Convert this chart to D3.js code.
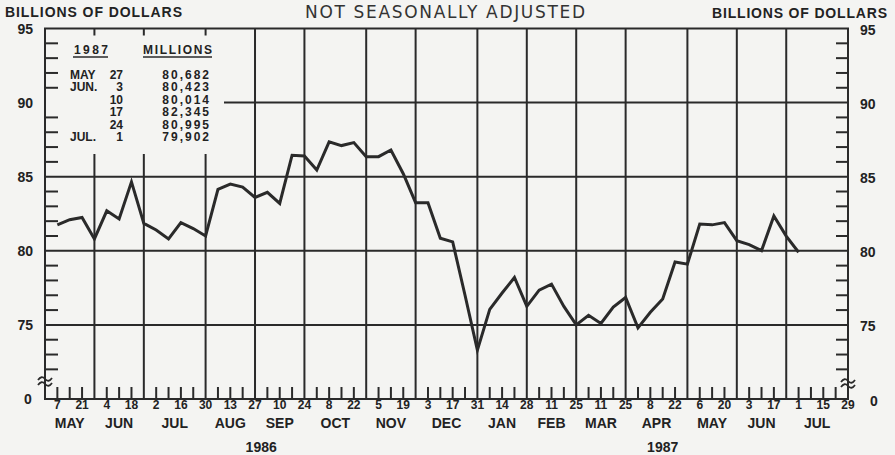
<!DOCTYPE html>
<html>
<head>
<meta charset="utf-8">
<script src="https://cdn.jsdelivr.net/npm/d3@7"></script>
<style>
  html, body { margin: 0; padding: 0; background: #f4f4f2; }
  svg { display: block; }
  text { font-family: 'Liberation Sans', Arial, sans-serif; fill: #222; }
</style>
</head>
<body>
<div class="container"></div>
<script>
window.onload = () => {

  // weekly readings (billions of dollars), Wednesdays from May 7 1986
  const firstWeek = new Date(Date.UTC(1986, 4, 7));
  const weeklyValues = [
    81.75, 82.1, 82.25, 80.8, 82.7, 82.15, 84.65, 81.85, 81.4, 80.8,
    81.9, 81.5, 81.0, 84.15, 84.5, 84.3, 83.6, 83.95, 83.2, 86.45,
    86.4, 85.45, 87.35, 87.1, 87.3, 86.35, 86.35, 86.8, 85.2, 83.25,
    83.25, 80.85, 80.6, 77.0, 73.3, 76.05, 77.15, 78.2, 76.25, 77.35,
    77.75, 76.25, 75.0, 75.65, 75.1, 76.2, 76.85, 74.8, 75.85, 76.75,
    79.25, 79.1, 81.8, 81.75, 81.9, 80.682, 80.423, 80.014, 82.345, 80.995,
    79.902
  ];
  const monthLabels = ['MAY', 'JUN', 'JUL', 'AUG', 'SEP', 'OCT', 'NOV', 'DEC',
    'JAN', 'FEB', 'MAR', 'APR', 'MAY', 'JUN', 'JUL'];
  const yearLabels = ['1986', '1987'];
  const yTicks = [75, 80, 85, 90, 95];
  const insetMonths = ['MAY', 'JUN.', '', '', '', 'JUL.'];
  const insetDays = ['27', '3', '10', '17', '24', '1'];
  const insetValues = [80682, 80423, 80014, 82345, 80995, 79902];

  const width = 895;
  const height = 455;
  const left = 45, right = 848, top = 28.5, bottom = 399;
  const ink = '#2a2a2a';

  const xStart = new Date(Date.UTC(1986, 3, 30));
  const xEnd = new Date(Date.UTC(1987, 6, 29));
  const x = d3.scaleUtc().domain([xStart, xEnd]).range([left, right]);
  // bottom of the broken axis is labelled 0
  const y = d3.scaleLinear().domain([70, 95]).range([bottom, top]);

  const svg = d3.select('.container')
    .append('svg')
    .attr('width', width)
    .attr('height', height);

  svg.append('rect')
    .attr('width', width)
    .attr('height', height)
    .attr('fill', '#f4f4f2');

  const weeks = d3.utcWednesday.range(firstWeek, d3.utcDay.offset(xEnd, 1));
  const isMonthEnd = d => d3.utcWeek.offset(d, 1).getUTCMonth() !== d.getUTCMonth();
  const boundaries = [xStart].concat(weeks.filter(isMonthEnd));

  // vertical grid at the last week of each month
  svg.append('g')
    .selectAll('line')
    .data(boundaries.slice(1, -1))
    .enter()
    .append('line')
    .attr('x1', d => x(d)).attr('x2', d => x(d))
    .attr('y1', top).attr('y2', bottom)
    .attr('stroke', ink)
    .attr('stroke-width', 2);

  // horizontal grid
  svg.append('g')
    .selectAll('line')
    .data(yTicks.slice(0, -1))
    .enter()
    .append('line')
    .attr('x1', left).attr('x2', right)
    .attr('y1', d => y(d)).attr('y2', d => y(d))
    .attr('stroke', ink)
    .attr('stroke-width', 2);

  // box for the inset table
  svg.append('rect')
    .attr('x', left + 1)
    .attr('y', top + 7)
    .attr('width', 224 - left - 1)
    .attr('height', 154 - top - 7)
    .attr('fill', '#f4f4f2');

  // minor y ticks on both sides
  const minor = d3.range(72, 95).filter(v => v % 5 !== 0);
  svg.append('g')
    .selectAll('line')
    .data(minor)
    .enter()
    .append('line')
    .attr('x1', left).attr('x2', left + 13)
    .attr('y1', d => y(d)).attr('y2', d => y(d))
    .attr('stroke', ink)
    .attr('stroke-width', 2);
  svg.append('g')
    .selectAll('line')
    .data(minor)
    .enter()
    .append('line')
    .attr('x1', right).attr('x2', right - 12)
    .attr('y1', d => y(d)).attr('y2', d => y(d))
    .attr('stroke', ink)
    .attr('stroke-width', 2);

  // weekly ticks on bottom axis
  svg.append('g')
    .selectAll('line')
    .data(weeks.filter(d => !isMonthEnd(d)))
    .enter()
    .append('line')
    .attr('x1', d => x(d)).attr('x2', d => x(d))
    .attr('y1', bottom).attr('y2', bottom - 12)
    .attr('stroke', ink)
    .attr('stroke-width', 2);

  // frame
  svg.append('rect')
    .attr('x', left).attr('y', top)
    .attr('width', right - left).attr('height', bottom - top)
    .attr('fill', 'none')
    .attr('stroke', ink)
    .attr('stroke-width', 2);

  // axis break marks
  [[left, 379], [right, 381]].forEach(([bx, by]) => {
    [0, 5].forEach(off => {
      svg.append('path')
        .attr('d', `M${bx - 7},${by + off + 1} q3.5,-5 7,-1 t7,-1`)
        .attr('fill', 'none')
        .attr('stroke', ink)
        .attr('stroke-width', 1.8);
    });
  });

  // data line
  const line = d3.line()
    .x((d, i) => x(d3.utcWeek.offset(firstWeek, i)))
    .y(d => y(d));
  svg.append('path')
    .datum(weeklyValues)
    .attr('d', line)
    .attr('fill', 'none')
    .attr('stroke', ink)
    .attr('stroke-width', 3)
    .attr('stroke-linejoin', 'miter');

  // headers
  svg.append('text')
    .attr('x', 5).attr('y', 17)
    .attr('font-size', 14).attr('font-weight', 'bold')
    .attr('textLength', 177).attr('lengthAdjust', 'spacing')
    .text('BILLIONS OF DOLLARS');
  svg.append('text')
    .attr('x', 712).attr('y', 18)
    .attr('font-size', 14).attr('font-weight', 'bold')
    .attr('textLength', 175).attr('lengthAdjust', 'spacing')
    .text('BILLIONS OF DOLLARS');
  svg.append('text')
    .attr('x', 305).attr('y', 18)
    .attr('font-size', 17)
    .style('font-family', "'DejaVu Sans', sans-serif")
    .style('fill', '#333')
    .attr('textLength', 280).attr('lengthAdjust', 'spacing')
    .text('NOT SEASONALLY ADJUSTED');

  // y labels
  const yLabels = svg.append('g')
    .attr('font-size', 14).attr('font-weight', 'bold');
  yLabels.selectAll('text.l')
    .data(yTicks)
    .enter()
    .append('text')
    .attr('class', 'l')
    .attr('x', 33).attr('y', d => y(d) + 5)
    .attr('text-anchor', 'end')
    .text(d => d);
  yLabels.selectAll('text.r')
    .data(yTicks)
    .enter()
    .append('text')
    .attr('class', 'r')
    .attr('x', 860).attr('y', d => y(d) + 6)
    .text(d => d);
  yLabels.append('text')
    .attr('x', 28).attr('y', y(70) + 5)
    .attr('text-anchor', 'middle').text('0');
  yLabels.append('text')
    .attr('x', 874).attr('y', y(70) + 7)
    .attr('text-anchor', 'middle').text('0');

  // x labels: every other week
  svg.append('g')
    .attr('font-size', 12).attr('font-weight', 'bold')
    .selectAll('text')
    .data(weeks.filter((d, i) => i % 2 === 0))
    .enter()
    .append('text')
    .attr('x', d => x(d))
    .attr('y', 409)
    .attr('text-anchor', 'middle')
    .text(d => d.getUTCDate());

  svg.append('g')
    .attr('font-size', 14).attr('font-weight', 'bold')
    .selectAll('text')
    .data(monthLabels)
    .enter()
    .append('text')
    .attr('x', (d, i) => (x(boundaries[i]) + x(boundaries[i + 1])) / 2)
    .attr('y', 428)
    .attr('text-anchor', 'middle')
    .text(d => d);

  const yearSplit = x(boundaries[8]);
  svg.append('g')
    .attr('font-size', 14).attr('font-weight', 'bold')
    .selectAll('text')
    .data(yearLabels)
    .enter()
    .append('text')
    .attr('x', (d, i) => i === 0 ? (left + yearSplit) / 2 : (yearSplit + right) / 2)
    .attr('y', 452)
    .attr('text-anchor', 'middle')
    .text(d => d);

  // inset table
  const inset = svg.append('g')
    .attr('font-size', 12).attr('font-weight', 'bold');
  inset.append('text').attr('x', 74).attr('y', 54)
    .attr('textLength', 34).text('1987');
  inset.append('text').attr('x', 143).attr('y', 54)
    .attr('textLength', 69).text('MILLIONS');
  [[73, 108], [143, 212]].forEach(([a, b]) => {
    inset.append('line')
      .attr('x1', a).attr('x2', b)
      .attr('y1', 57).attr('y2', 57)
      .attr('stroke', ink).attr('stroke-width', 1.5);
  });
  const rowY = i => 79 + i * 12.4;
  inset.selectAll('text.m')
    .data(insetMonths)
    .enter()
    .append('text')
    .attr('class', 'm')
    .attr('x', 70).attr('y', (d, i) => rowY(i))
    .text(d => d);
  inset.selectAll('text.d')
    .data(insetDays)
    .enter()
    .append('text')
    .attr('class', 'd')
    .attr('x', 123).attr('y', (d, i) => rowY(i))
    .attr('text-anchor', 'end')
    .text(d => d);
  inset.selectAll('text.v')
    .data(insetValues)
    .enter()
    .append('text')
    .attr('class', 'v')
    .attr('x', 211).attr('y', (d, i) => rowY(i))
    .attr('text-anchor', 'end')
    .attr('letter-spacing', 2)
    .text(d => d3.format(',')(d));
};
</script>
</body>
</html>
